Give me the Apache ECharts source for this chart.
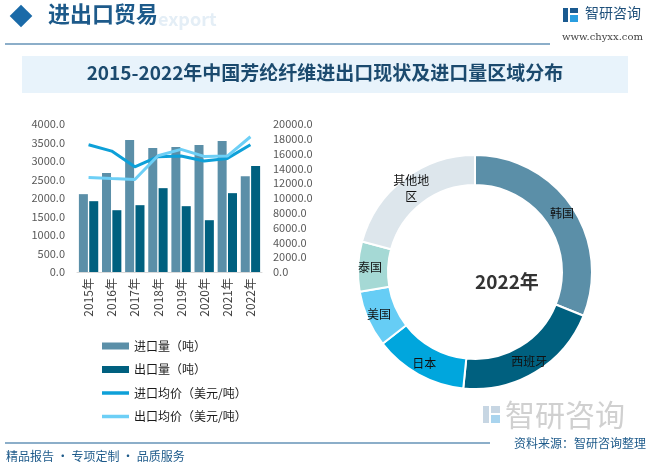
<!DOCTYPE html>
<html><head><meta charset="utf-8">
<script src="https://cdn.jsdelivr.net/npm/echarts@6/dist/echarts.min.js"></script>
<style>html,body{margin:0;padding:0;background:#fff}#c{width:650px;height:469px}</style>
</head><body><div id="c"></div>
<script>
var years = ['2015年','2016年','2017年','2018年','2019年','2020年','2021年','2022年'];
var importVol = [2104, 2673, 3567, 3350, 3377, 3431, 3540, 2591];
var exportVol = [1914, 1670, 1806, 2266, 1779, 1400, 2131, 2862];
var importPrice = [17200, 16340, 14220, 15580, 15670, 14990, 15350, 17200];
var exportPrice = [12780, 12640, 12510, 15710, 16570, 15620, 15670, 18280];
var regions = ['韩国','西班牙','日本','美国','泰国','其他地\n区'];
var regionShare = [31.1, 20.5, 12.9, 7.8, 6.9, 20.8];
var pieColors = ['#5b8fa8','#00607f','#00a6dd','#66cdf5','#a5d9d5','#dde6ec'];

var FONT = '"Noto Sans CJK SC", "Noto Sans", sans-serif';
var LINE_ICON = 'path://M0,0 L27,0 L27,3.5 L0,3.5 Z';
var chart = echarts.init(document.getElementById('c'));
chart.setOption({
  backgroundColor: '#fff',
  textStyle: {fontFamily: FONT},
  graphic: [
    {type:'rect', shape:{x:13,y:8,width:16,height:16}, rotation:Math.PI/4, originX:21, originY:16, style:{fill:'#1a6aa8'}},
    {type:'text', left:48, top:3, style:{text:'进出口贸易', font:'bold 22px ' + FONT, fill:'#1d5a8a'}},
    {type:'text', left:158, top:10, style:{text:'export', font:'bold 18px ' + FONT, fill:'#e4eef6'}},
    {type:'line', shape:{x1:5,y1:44,x2:550,y2:44}, style:{stroke:'#1a5f94', lineWidth:1.2}},
    {type:'rect', shape:{x:563,y:8,width:5,height:14}, style:{fill:'#1a5a90'}},
    {type:'rect', shape:{x:570,y:8,width:8,height:5}, style:{fill:'#1a5a90'}},
    {type:'rect', shape:{x:570,y:15,width:8,height:7}, style:{fill:'#2a9ee0'}},
    {type:'text', left:585, top:6, style:{text:'智研咨询', font:'14px ' + FONT, fill:'#1d4f7a'}},
    {type:'text', left:562, top:32, style:{text:'www.chyxx.com', font:'10px "DejaVu Serif", serif', fill:'#444'}},
    {type:'rect', shape:{x:22,y:56,width:606,height:37}, style:{fill:'#e8f3fb'}},
    {type:'text', left:'center', top:63, style:{text:'2015-2022年中国芳纶纤维进出口现状及进口量区域分布', font:'bold 19px ' + FONT, fill:'#1b4a6e'}},
    {type:'rect', shape:{x:483,y:406,width:6,height:17}, style:{fill:'#c7d6e3'}},
    {type:'rect', shape:{x:491,y:406,width:9,height:7}, style:{fill:'#c7d6e3'}},
    {type:'rect', shape:{x:491,y:415,width:9,height:8}, style:{fill:'#a9d4ee'}},
    {type:'text', left:505, top:400, style:{text:'智研咨询', font:'30px ' + FONT, fill:'#d0d0d0'}},
    {type:'line', shape:{x1:5,y1:443,x2:490,y2:443}, style:{stroke:'#1a5f94', lineWidth:1.2}},
    {type:'text', left:6, top:450, style:{text:'精品报告 · 专项定制 · 品质服务', font:'12px ' + FONT, fill:'#1d5a8a'}},
    {type:'text', right:4, top:437, style:{text:'资料来源：智研咨询整理', font:'12px ' + FONT, fill:'#1d5a8a'}},
    {type:'text', left:475, top:272, style:{text:'2022年', font:'bold 19px ' + FONT, fill:'#333', align:'center', verticalAlign:'middle'}}
  ],
  legend: {
    orient: 'vertical', left: 97, top: 335, itemGap: 11.5, itemWidth: 27, itemHeight: 7,
    textStyle: {fontSize: 12, color: '#1a1a1a', fontFamily: FONT},
    data: [
      {name:'进口量（吨）', icon:'rect'},
      {name:'出口量（吨）', icon:'rect'},
      {name:'进口均价（美元/吨）', icon: LINE_ICON},
      {name:'出口均价（美元/吨）', icon: LINE_ICON}
    ]
  },
  grid: {left: 77, right: 388, top: 124, bottom: 197},
  xAxis: {
    type: 'category', data: years,
    axisLine: {lineStyle: {color: '#d9d9d9'}}, axisTick: {show: false},
    axisLabel: {rotate: 90, fontSize: 12, color: '#404040', margin: 6, interval: 0}
  },
  yAxis: [
    {type:'value', min:0, max:4000, interval:500, splitLine:{show:false},
     axisLabel:{formatter:function(v){return v.toFixed(1);}, fontSize:11, color:'#595959', margin:12}},
    {type:'value', min:0, max:20000, interval:2000, splitLine:{show:false},
     axisLabel:{formatter:function(v){return v.toFixed(1);}, fontSize:11, color:'#595959', margin:11}}
  ],
  series: [
    {name:'进口量（吨）', type:'bar', data:importVol, barWidth:9, barGap:'15%', itemStyle:{color:'#5b8fa8'}},
    {name:'出口量（吨）', type:'bar', data:exportVol, barWidth:9, itemStyle:{color:'#00607f'}},
    {name:'进口均价（美元/吨）', type:'line', yAxisIndex:1, data:importPrice, symbol:'none', lineStyle:{width:3, color:'#0ea0d8'}, itemStyle:{color:'#0ea0d8'}},
    {name:'出口均价（美元/吨）', type:'line', yAxisIndex:1, data:exportPrice, symbol:'none', lineStyle:{width:3, color:'#6dcff6'}, itemStyle:{color:'#6dcff6'}},
    {type:'pie', center:[475,272], radius:[87,117], startAngle:90, clockwise:true,
     data: regions.map(function(n,i){return {name:n, value:regionShare[i], itemStyle:{color:pieColors[i]}};}),
     itemStyle:{borderColor:'#fff', borderWidth:2},
     label:{position:'inside', color:'#111', fontSize:12, fontFamily:FONT, lineHeight:16},
     labelLine:{show:false}, emphasis:{disabled:true}}
  ]
});
</script></body></html>
